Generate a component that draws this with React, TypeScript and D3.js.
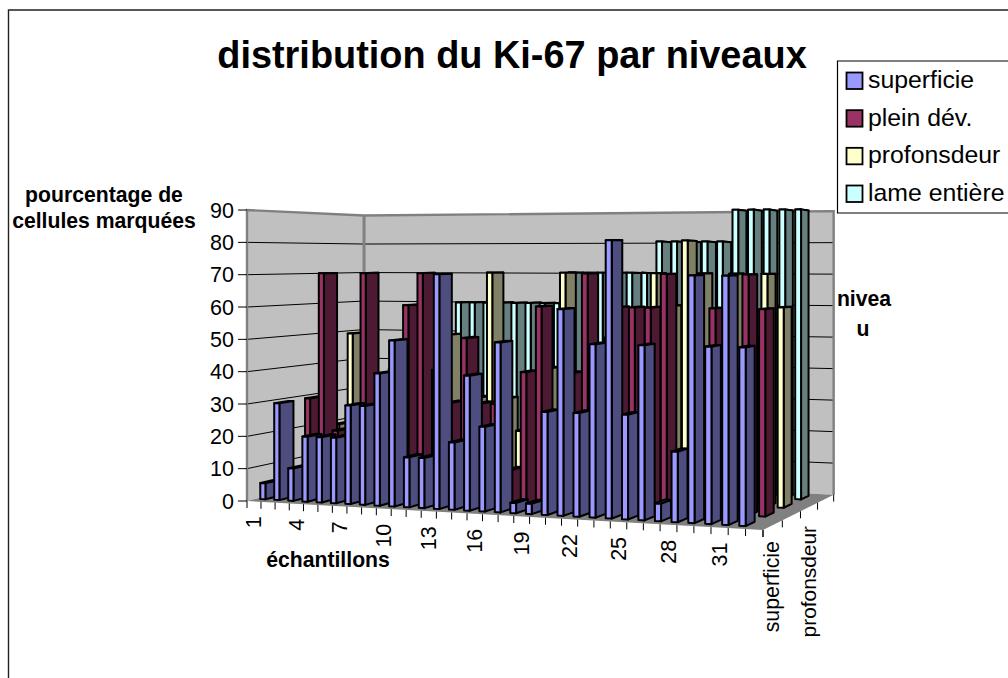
import React from "react";
import * as d3 from "d3";

const seriesNames = ["superficie", "plein dév.", "profonsdeur", "lame entière"];
const superficie: (number | null)[] = [5, 30, 10, 20, 20, 20, 30, 30, 40, 50, 15, 15, 70, 20, 40, 25, 50, 3, 3, 30, 60, 30, 50, 80, 30, 50, 5, 20, 70, 50, 70, 50];
const pleinDev: (number | null)[] = [null, 30, 70, 20, 20, 70, 30, 40, 60, 70, 40, 30, 50, 30, 30, 10, 40, 60, 20, 40, 70, 30, 60, 60, 60, 70, 10, 40, 60, 40, 70, 60];
const profondeur: (number | null)[] = [null, 20, 50, 30, 20, 30, 30, 40, 40, 50, 20, 30, 70, 30, 20, 20, 40, 70, 30, 30, 50, 40, 40, 70, 60, 80, 70, 40, 70, 50, 70, 60];
const lameEntiere: (number | null)[] = [null, null, null, null, null, null, null, null, 60, 60, 60, 60, 60, 60, 60, 60, 70, 70, 70, 70, 70, 70, 80, 80, 80, 80, 80, 90, 90, 90, 90, 90];
const rows = [superficie, pleinDev, profondeur, lameEntiere];
const faceColors = ["#9999FF", "#993366", "#FFFFCC", "#CCFFFF"];
const sideColors = ["#4D4D80", "#4D1A33", "#808066", "#668080"];
const valueTicks = [0, 10, 20, 30, 40, 50, 60, 70, 80, 90];
const categoryCount = 33;
const categoryLabels = ["1", "4", "7", "10", "13", "16", "19", "22", "25", "28", "31"];
const depthLabels = ["superficie", "profonsdeur"];

const FONT = "'Liberation Sans', Arial, sans-serif";

// perspective floor: u along categories, w along depth
const G = -0.108, H = 0.115;
const AX = 433.6, BX = 158.9, CX = 247;
const AY = -28.2, BY = 25.3, CY = 501;
// height scale (px per value unit) at the four floor corners
const S00 = 3.233, S10 = 3.62, S01 = 2.85, S11 = 3.15;

function project(u: number, w: number, v: number): [number, number] {
  const d = 1 + G * u + H * w;
  const x = (AX * u + BX * w + CX) / d;
  const y = (AY * u + BY * w + CY) / d;
  const s = S00 * (1 - u) * (1 - w) + S10 * u * (1 - w) + S01 * (1 - u) * w + S11 * u * w;
  return [x, y - s * v];
}

const catScale = d3.scaleBand<number>().domain(d3.range(categoryCount)).range([0, 1]).paddingInner(0.63).paddingOuter(0.315);
const catEdge = d3.scaleLinear().domain([0, categoryCount]).range([0, 1]);
const rowScale = d3.scaleBand<number>().domain(d3.range(4)).range([0, 1]).paddingInner(0.55).paddingOuter(0.275);
const rowEdge = d3.scaleLinear().domain([0, 4]).range([0, 1]);
const line = d3.line();
const poly = (pts: [number, number][]) => line(pts) + "Z";

function Bar({ k, r, v }: { k: number; r: number; v: number }) {
  const u0 = catScale(k)!, u1 = u0 + catScale.bandwidth();
  const w0 = rowScale(r)!, w1 = w0 + rowScale.bandwidth();
  const front = poly([project(u0, w0, 0), project(u1, w0, 0), project(u1, w0, v), project(u0, w0, v)]);
  const side = poly([project(u1, w0, 0), project(u1, w1, 0), project(u1, w1, v), project(u1, w0, v)]);
  const top = poly([project(u0, w0, v), project(u1, w0, v), project(u1, w1, v), project(u0, w1, v)]);
  return (
    <g stroke="#000" strokeWidth={2} strokeLinejoin="round">
      <path d={top} fill={sideColors[r]} />
      <path d={side} fill={sideColors[r]} />
      <path d={front} fill={faceColors[r]} />
    </g>
  );
}

export default function App() {
  const leftWall = poly([project(0, 0, 0), project(0, 1, 0), project(0, 1, 90), project(0, 0, 90)]);
  const backWall = poly([project(0, 1, 0), project(1, 1, 0), project(1, 1, 90), project(0, 1, 90)]);
  const floor = poly([project(0, 0, 0), project(1, 0, 0), project(1, 1, 0), project(0, 1, 0)]);
  const wallEdges = poly([project(0, 0, 0), project(0, 0, 90), project(0, 1, 90), project(1, 1, 90), project(1, 1, 0)]).replace("Z", "");
  const corner = line([project(0, 1, 0), project(0, 1, 90)])!;
  return (
    <svg width={1008} height={678} style={{ position: "absolute", left: 0, top: 0, background: "#fff" }} fontFamily={FONT}>
      <path d="M1008,10H8.5V678" fill="none" stroke="#222" strokeWidth={1.4} />
      <text x={512} y={68} textAnchor="middle" fontSize={37.9} fontWeight="bold">distribution du Ki-67 par niveaux</text>

      <path d={leftWall} fill="#C0C0C0" />
      <path d={backWall} fill="#C0C0C0" />
      <path d={floor} fill="#808080" />
      {valueTicks.filter((v) => v > 0 && v < 90).map((v) => (
        <path key={v} d={line([project(0, 0, v), project(0, 1, v), project(1, 1, v)])!} fill="none" stroke="#000" strokeWidth={1} />
      ))}
      <path d={wallEdges} fill="none" stroke="#808080" strokeWidth={2.4} />
      <path d={corner} fill="none" stroke="#808080" strokeWidth={3} />

      {valueTicks.map((v) => {
        const [x, y] = project(0, 0, v);
        return (
          <g key={v}>
            <line x1={x - 9} x2={x} y1={y} y2={y} stroke="#000" strokeWidth={1} />
            <text x={x - 13} y={y + 7.5} textAnchor="end" fontSize={21.5}>{v}</text>
          </g>
        );
      })}

      {d3.range(categoryCount + 1).map((i) => {
        const [x, y] = project(catEdge(i), 0, 0);
        return <line key={i} x1={x} x2={x} y1={y} y2={y + 7} stroke="#000" strokeWidth={1} />;
      })}
      {categoryLabels.map((t) => {
        const [x, y] = project(catEdge(+t - 0.5), 0, 0);
        return (
          <text key={t} transform={`translate(${x + 7.5},${y + 15}) rotate(-90)`} textAnchor="end" fontSize={21.5}>{t}</text>
        );
      })}
      {d3.range(5).map((i) => {
        const [x, y] = project(1, rowEdge(i), 0);
        return <line key={i} x1={x} x2={x} y1={y} y2={y + 7} stroke="#000" strokeWidth={1} />;
      })}
      {depthLabels.map((t, i) => {
        const [x, y] = project(1, rowEdge(i * 2 + 0.5), 0);
        return (
          <text key={t} transform={`translate(${x + 6.5},${y + 16 + i * 3}) rotate(-90)`} textAnchor="end" fontSize={i === 0 ? 21.3 : 20.9}>{t}</text>
        );
      })}

      {[3, 2, 1, 0].map((r) => (
        <g key={r}>
          {rows[r].map((v, k) => (v == null ? null : <Bar key={k} k={k} r={r} v={v} />))}
        </g>
      ))}

      <g fontWeight="bold" fontSize={21.2} textAnchor="middle">
        <text x={104} y={202}>pourcentage de</text>
        <text x={104} y={228}>cellules marquées</text>
        <text x={328} y={567}>échantillons</text>
        <text x={864} y={306}>nivea</text>
        <text x={863} y={336}>u</text>
      </g>

      <path d="M1008,61H837.5V213H1008" fill="#fff" stroke="#000" strokeWidth={1.2} />
      {seriesNames.map((s, i) => {
        const yy = d3.scaleLinear().domain([0, 3]).range([72.5, 185.5])(i);
        return (
          <g key={s}>
            <rect x={846.5} y={yy} width={16} height={16.5} fill={faceColors[i]} stroke="#000" strokeWidth={1.8} />
            <text x={868} y={yy + 15.5} fontSize={24.8}>{s}</text>
          </g>
        );
      })}
    </svg>
  );
}
